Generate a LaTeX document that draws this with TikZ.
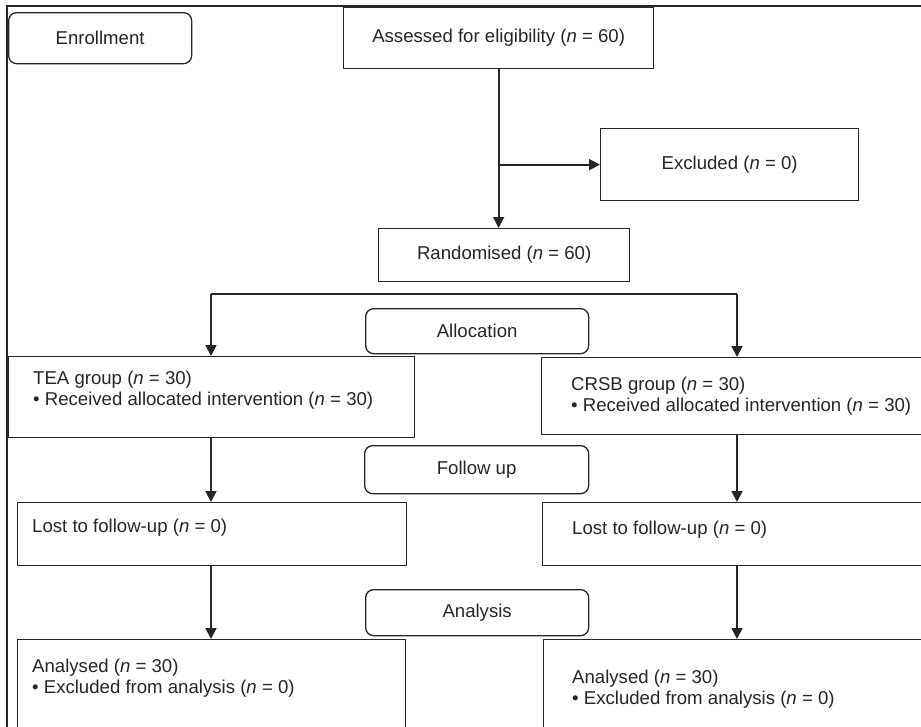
\documentclass[tikz,border=0pt]{standalone}
\usepackage{fontspec}
\setmainfont{Liberation Sans}
\usetikzlibrary{arrows.meta}
\definecolor{lnc}{HTML}{262626}
\tikzset{
  fnt/.style={font=\fontsize{18.6}{21.5}\selectfont, text=lnc},
  box/.style={draw=lnc, line width=1.3pt, inner sep=0pt, anchor=north west, fnt},
  rbox/.style={box, rounded corners=8pt},
  tl/.style={anchor=north west, align=left, inner sep=0pt, fnt},
  conn/.style={draw=lnc, line width=1.8pt},
  arr/.style={conn, -{Triangle[length=11pt,width=11pt]}}
}
\begin{document}
\begin{tikzpicture}[x=1pt, y=-1pt]
\clip (0,0) rectangle (921,726);
\fill[white] (0,0) rectangle (921,726);
% outer frame (cropped)
\draw[lnc, line width=1.3pt] (1000,6) -- (7,6) -- (7,800);
% stage labels
\node[rbox, minimum width=183pt, minimum height=51pt] (enr) at (8,12) {Enrollment};
\node[rbox, minimum width=223pt, minimum height=45pt] (alloc) at (365,308) {Allocation};
\node[rbox, minimum width=224pt, minimum height=48pt] (fup) at (364,445) {Follow up};
\node[rbox, minimum width=223pt, minimum height=46pt] (anal) at (365,589) {Analysis};
% main boxes
\node[box, minimum width=310pt, minimum height=61pt] (ass) at (343,7) {Assessed for eligibility (\textit{n} = 60)};
\node[box, minimum width=258pt, minimum height=72pt] (exc) at (600,128) {Excluded (\textit{n} = 0)};
\node[box, minimum width=251pt, minimum height=53pt] (rand) at (378,228) {Randomised (\textit{n} = 60)};
\node[box, minimum width=406pt, minimum height=81pt,
  label={[tl, xshift=25pt, yshift=-14.7pt]north west:{TEA group (\textit{n} = 30)\\• Received allocated intervention (\textit{n} = 30)}}] (tea) at (8,356) {};
\node[box, minimum width=459pt, minimum height=77pt,
  label={[tl, xshift=30pt, yshift=-19.7pt]north west:{CRSB group (\textit{n} = 30)\\• Received allocated intervention (\textit{n} = 30)}}] (crsb) at (541,357) {};
\node[box, minimum width=389pt, minimum height=63pt,
  label={[tl, xshift=15pt, yshift=-16.7pt]north west:{Lost to follow-up (\textit{n} = 0)}}] (lostl) at (17,502) {};
\node[box, minimum width=458pt, minimum height=63pt,
  label={[tl, xshift=30pt, yshift=-18.7pt]north west:{Lost to follow-up (\textit{n} = 0)}}] (lostr) at (542,502) {};
\node[box, minimum width=388pt, minimum height=161pt,
  label={[tl, xshift=15pt, yshift=-19.7pt]north west:{Analysed (\textit{n} = 30)\\• Excluded from analysis (\textit{n} = 0)}}] (anl) at (17,639) {};
\node[box, minimum width=457pt, minimum height=161pt,
  label={[tl, xshift=29pt, yshift=-30.7pt]north west:{Analysed (\textit{n} = 30)\\• Excluded from analysis (\textit{n} = 0)}}] (anr) at (543,639) {};
% connectors
\draw[arr] (ass.south) -- (ass.south |- rand.north);
\draw[arr] (ass.south |- exc.west) -- (exc.west);
\coordinate (bL) at (211,294);
\coordinate (bR) at (737,294);
\draw[conn] (bL) -- (bR);
\draw[arr] (bL) -- (bL |- tea.north);
\draw[arr] (bR) -- (bR |- crsb.north);
\draw[arr] (bL |- tea.south) -- (bL |- lostl.north);
\draw[arr] (bR |- crsb.south) -- (bR |- lostr.north);
\draw[arr] (bL |- lostl.south) -- (bL |- anl.north);
\draw[arr] (bR |- lostr.south) -- (bR |- anr.north);
\end{tikzpicture}
\end{document}
